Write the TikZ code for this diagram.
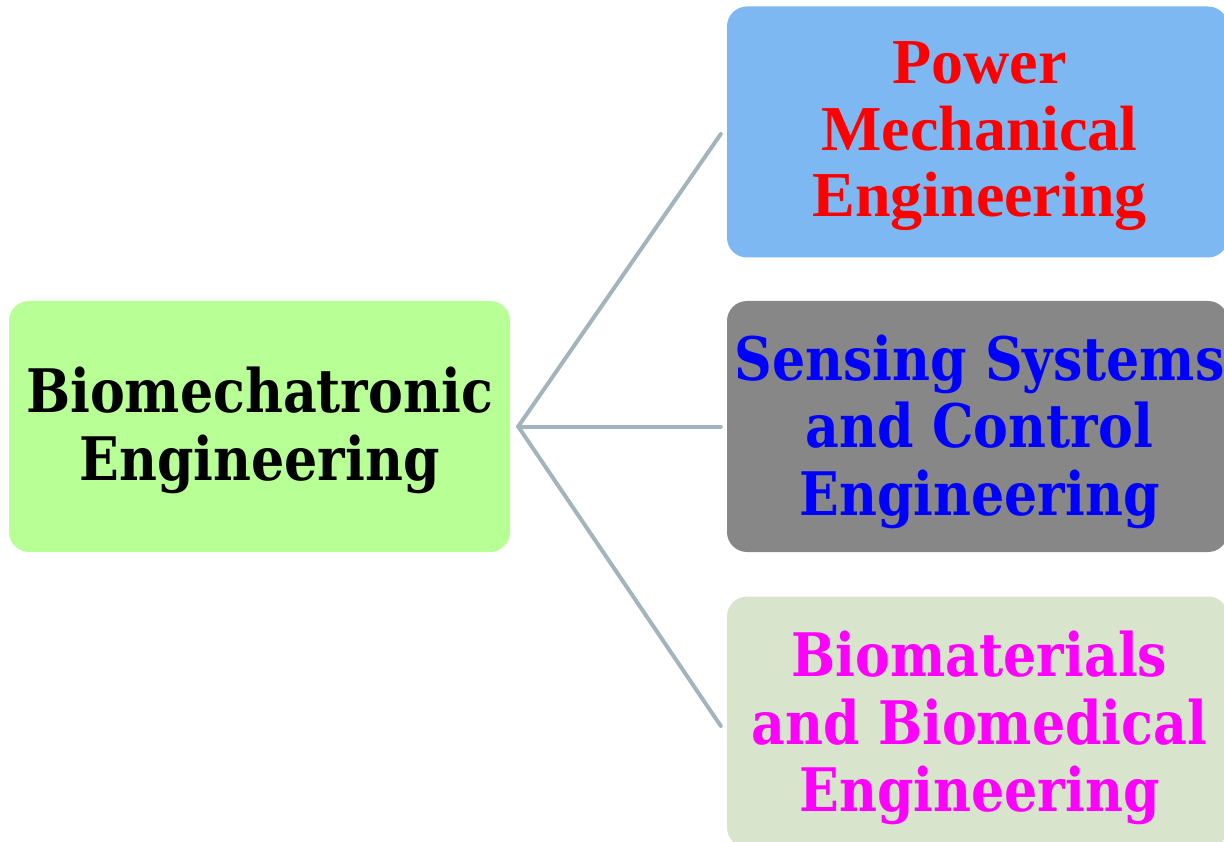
\documentclass[tikz,border=0pt]{standalone}
\usepackage{fontspec}
\setmainfont{Liberation Serif}
\newfontfamily\camfont[FakeStretch=0.87]{DejaVu Serif}
\newfontfamily\timesfont{Liberation Serif}
\definecolor{boxgreen}{HTML}{B8FF96}
\definecolor{boxblue}{HTML}{7EB8F2}
\definecolor{boxgray}{HTML}{878787}
\definecolor{boxsage}{HTML}{D8E4CC}
\definecolor{linkcol}{HTML}{A3B5BC}
\definecolor{txtred}{HTML}{FF0000}
\definecolor{txtblue}{HTML}{0000FF}
\definecolor{txtmag}{HTML}{FF00FF}
\tikzset{
  topic/.style={rectangle, rounded corners=20pt, inner sep=0pt,
    minimum width=#1, minimum height=251pt},
  label/.style={inner sep=0pt, align=center},
  camtext/.style={font=\camfont\bfseries\fontsize{60}{67.5}\selectfont},
  timestext/.style={font=\timesfont\bfseries\fontsize{64}{66.5}\selectfont},
  link/.style={draw=linkcol, line width=4pt, line cap=round}
}
\begin{document}
\begin{tikzpicture}[x=1pt,y=-1pt]
\useasboundingbox (0,0) rectangle (1224,842);
\node[topic=501pt, fill=boxgreen] (L) at (259.5,426.5) {};
\node[topic=501pt, fill=boxblue] (P) at (977.5,132) {};
\node[topic=501pt, fill=boxgray] (S) at (977.5,426.5) {};
\node[topic=501pt, fill=boxsage] (B) at (977.5,722) {};
\node[label, camtext, text=black] (Lt) at ([yshift=-4pt]L.center)
  {Biomechatronic\\Engineering};
\node[label, timestext, text=txtred] (Pt) at ([xshift=2pt,yshift=-4.5pt]P.center)
  {Power\\Mechanical\\Engineering};
\node[label, camtext, text=txtblue] (St) at ([xshift=2pt,yshift=-5pt]S.center)
  {Sensing Systems\\and Control\\Engineering};
\node[label, camtext, text=txtmag] (Bt) at ([xshift=2pt,yshift=-6pt]B.center)
  {Biomaterials\\and Biomedical\\Engineering};
\draw[link] ([xshift=8pt]L.east) -- ([xshift=-6pt,yshift=-2pt]P.west);
\draw[link] ([xshift=8pt]L.east) -- ([xshift=-6pt]S.west);
\draw[link] ([xshift=8pt]L.east) -- ([xshift=-6pt,yshift=-4pt]B.west);
\end{tikzpicture}
\end{document}
